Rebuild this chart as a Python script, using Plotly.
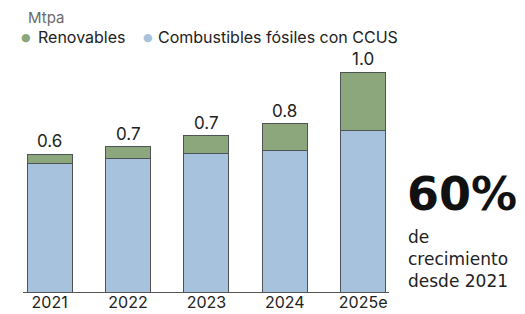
import plotly.graph_objects as go

years = ["2021", "2022", "2023", "2024", "2025e"]
fossil_ccus = [0.586, 0.605, 0.632, 0.645, 0.736]
renewables = [0.041, 0.055, 0.078, 0.119, 0.264]
total_labels = ["0.6", "0.7", "0.7", "0.8", "1.0"]
unit_label = "Mtpa"
legend_names = ["Renovables", "Combustibles fósiles con CCUS"]
headline = "60%"
subtext = ["de", "crecimiento", "desde 2021"]

BLUE = "#a6c2dc"
GREEN = "#8ca77c"
EDGE = "#4d5356"
FONT = "Inter"
WIDE = "DejaVu Sans"

totals = [a + b for a, b in zip(fossil_ccus, renewables)]

# the page body adds an 8px margin, so the figure is drawn 8px in from the window corner
OFF = 8
W, H = 525 - OFF, 314 - OFF
PLOT_LEFT, PLOT_RIGHT, PLOT_TOP, PLOT_BOTTOM = 23, 389, 60, 292  # window pixels
L, R, T, B = PLOT_LEFT - OFF, W - (PLOT_RIGHT - OFF), PLOT_TOP - OFF, H - (PLOT_BOTTOM - OFF)
pw, ph = W - L - R, H - T - B

def px(x):
    return (x - OFF - L) / pw

def py(y):
    return (PLOT_BOTTOM - y) / ph

fig = go.Figure()
fig.add_trace(go.Bar(x=years, y=fossil_ccus, marker=dict(color=BLUE, line=dict(color=EDGE, width=1)),
                     name=legend_names[1], showlegend=False))
fig.add_trace(go.Bar(x=years, y=renewables, marker=dict(color=GREEN, line=dict(color=EDGE, width=1)),
                     name=legend_names[0], showlegend=False))

anns = []
for i, (t, lab) in enumerate(zip(totals, total_labels)):
    anns.append(dict(x=i, y=t, text=lab, showarrow=False, xref="x", yref="y",
                     yanchor="bottom", yshift=1, font=dict(size=17, color="#222", family=FONT)))

anns.append(dict(x=px(26), y=py(18), xref="paper", yref="paper", text=unit_label, showarrow=False,
                 xanchor="left", yanchor="middle", font=dict(size=15, color="#6a6a6a", family=FONT)))
# legend dots and labels
for dot_x, txt_x, col, name in [(26, 36, GREEN, legend_names[0]), (148, 156, BLUE, legend_names[1])]:
    anns.append(dict(x=px(dot_x), y=py(37), xref="paper", yref="paper", text="●", showarrow=False,
                     xanchor="center", yanchor="middle", font=dict(size=11, color=col, family="DejaVu Sans")))
    anns.append(dict(x=px(txt_x), y=py(37), xref="paper", yref="paper", text=name, showarrow=False,
                     xanchor="left", yanchor="middle", font=dict(size=16, color="#222", family=FONT)))

anns.append(dict(x=px(405), y=py(194), xref="paper", yref="paper", text=f"<b>{headline}</b>",
                 showarrow=False, xanchor="left", yanchor="middle", font=dict(size=46, color="#111", family=WIDE)))
anns.append(dict(x=px(406), y=py(259), xref="paper", yref="paper", text="<br>".join(subtext),
                 showarrow=False, xanchor="left", yanchor="middle", align="left",
                 font=dict(size=17, color="#222", family=WIDE)))

fig.update_layout(
    width=W, height=H,
    margin=dict(l=L, r=R, t=T, b=B),
    barmode="stack", bargap=0.427,
    paper_bgcolor="white", plot_bgcolor="white",
    font=dict(family=FONT, color="#222"),
    showlegend=False,
    xaxis=dict(range=[-0.34, 4.33], showline=True, linecolor="#555", linewidth=1, ticks="",
               ticklabelstandoff=-4,
               tickfont=dict(size=16, color="#222", family=FONT), showgrid=False, fixedrange=True,
               automargin=False),
    yaxis=dict(range=[0, 1.055], visible=False, showgrid=False, fixedrange=True, automargin=False),
    annotations=anns,
)
fig.write_html("out.html")
